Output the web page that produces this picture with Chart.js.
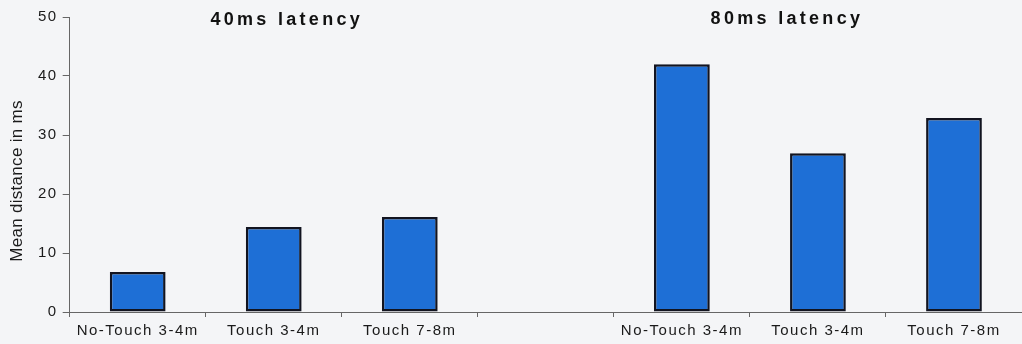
<!DOCTYPE html>
<html>
<head>
<meta charset="utf-8">
<script src="https://cdn.jsdelivr.net/npm/chart.js@4"></script>
<style>
  html, body { margin: 0; padding: 0; background: #f4f5f7; }
  #wrap { width: 1022px; height: 344px; }
</style>
</head>
<body>
<div id="wrap"><canvas id="barChart"></canvas></div>
<script>
// categories (empty slot separates the two latency groups)
const categories = ['No-Touch 3-4m', 'Touch 3-4m', 'Touch 7-8m', '', 'No-Touch 3-4m', 'Touch 3-4m', 'Touch 7-8m'];
const meanDistance = [6.8, 14.4, 16.1, null, 42.0, 26.9, 32.9];
const groupTitles = ['40ms latency', '80ms latency'];
const yTitle = 'Mean distance in ms';
const yTicks = [0, 10, 20, 30, 40, 50];

const FONT = '"Liberation Sans", Arial, sans-serif';

// the original text is set wide, so space the letters out a bit
const spacingPlugin = {
    id: 'spacing',
    beforeLayout(chart) { chart.ctx.letterSpacing = '1.5px'; },
    beforeDraw(chart) { chart.ctx.letterSpacing = '1.5px'; }
};

// group headings above the bars and the y axis title
const textPlugin = {
    id: 'groupTitles',
    afterDraw(chart) {
        const ctx = chart.ctx;
        const x = chart.scales.x;
        ctx.save();
        ctx.font = 'bold 18px ' + FONT;
        ctx.letterSpacing = '3.3px';
        ctx.fillStyle = '#111';
        ctx.textAlign = 'center';
        ctx.textBaseline = 'middle';
        ctx.fillText(groupTitles[0], x.getPixelForValue(1) + 13, 20);
        ctx.fillText(groupTitles[1], x.getPixelForValue(5) - 31, 19);
        ctx.restore();

        ctx.save();
        ctx.font = '17px ' + FONT;
        ctx.letterSpacing = '0.3px';
        ctx.fillStyle = '#1a1a1a';
        ctx.textAlign = 'center';
        ctx.textBaseline = 'middle';
        ctx.translate(17, 181);
        ctx.rotate(-Math.PI / 2);
        ctx.fillText(yTitle, 0, 0);
        ctx.restore();
    }
};

const ctx = document.getElementById('barChart').getContext('2d');
const chart = new Chart(ctx, {
    type: 'bar',
    data: {
        labels: categories,
        datasets: [{
            data: meanDistance,
            backgroundColor: '#1e6fd6',
            borderColor: '#121420',
            borderWidth: 2.5,
            borderSkipped: false,
            categoryPercentage: 1.0,
            barPercentage: 0.41
        }]
    },
    options: {
        responsive: true,
        maintainAspectRatio: false,
        animation: false,
        layout: { padding: { top: 17, right: 0, left: 33, bottom: 0 } },
        plugins: {
            legend: { display: false },
            tooltip: { enabled: false }
        },
        scales: {
            x: {
                grid: {
                    display: true,
                    drawOnChartArea: false,
                    drawTicks: true,
                    tickLength: 5,
                    color: '#666'
                },
                border: { color: '#666', width: 1 },
                ticks: {
                    color: '#1a1a1a',
                    font: { family: FONT, size: 15, lineHeight: 1.0 },
                    maxRotation: 0,
                    autoSkip: false,
                    padding: 6
                }
            },
            y: {
                min: 0,
                max: 50,
                afterBuildTicks(axis) { axis.ticks = yTicks.map(v => ({ value: v })); },
                grid: {
                    display: true,
                    drawOnChartArea: false,
                    drawTicks: true,
                    tickLength: 7,
                    color: '#666'
                },
                border: { color: '#666', width: 1 },
                ticks: {
                    color: '#1a1a1a',
                    font: { family: FONT, size: 15 },
                    padding: 5
                }
            }
        }
    },
    plugins: [spacingPlugin, textPlugin]
});
</script>
</body>
</html>
